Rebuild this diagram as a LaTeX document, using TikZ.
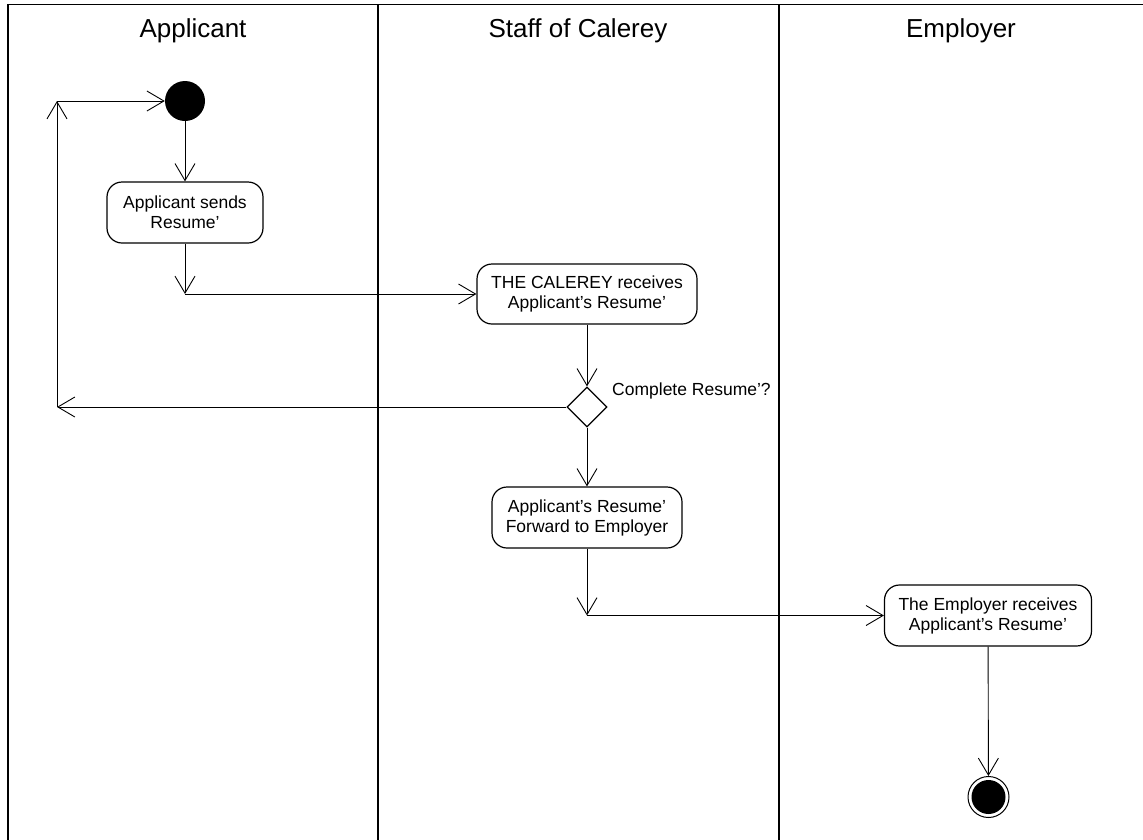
\documentclass[tikz,border=0pt]{standalone}
\usepackage{fontspec}
\setmainfont{Liberation Sans}
\usetikzlibrary{arrows.meta,shapes.geometric}

\tikzset{
  lane/.style={line width=1.6pt, line cap=rect},
  lanehead/.style={font=\fontsize{26}{30}\selectfont, anchor=center},
  activity/.style={draw, line width=1.2pt, rounded corners=15pt, align=center,
    inner sep=0pt, font=\fontsize{17.5}{20}\selectfont},
  startnode/.style={circle, fill=black, minimum size=40pt, inner sep=0pt},
  endnode/.style={circle, draw, line width=1pt, minimum size=41pt, inner sep=0pt},
  decision/.style={diamond, draw, line width=1.2pt, minimum width=40pt,
    minimum height=40pt, inner sep=0pt},
  flow/.style={line width=0.9pt, -{Straight Barb[length=17pt,width=20pt,line width=0.9pt]}},
  guard/.style={font=\fontsize{17.5}{20}\selectfont, anchor=west, inner sep=0pt}
}

\begin{document}
\begin{tikzpicture}[x=1pt, y=-1pt]
  \useasboundingbox (0,0) rectangle (1143,839);

  % swimlane frame
  \draw[lane] (1143,4.5) -- (8,4.5) -- (8,839);
  \draw[lane] (378,4.5) -- (378,839);
  \draw[lane] (779,4.5) -- (779,839);

  % lane titles
  \node[lanehead] (hApp) at (193,31) {Applicant};
  \node[lanehead] (hStaff) at (578,31) {Staff of Calerey};
  \node[lanehead] (hEmp) at (961,31) {Employer};

  % activities
  \node[startnode] (start) at (185,101) {};
  \node[activity, minimum width=156pt, minimum height=61pt] (send) at (185,212.5)
    {Applicant sends\\Resume’};
  \node[activity, minimum width=220pt, minimum height=60pt] (recv) at (587,294)
    {THE CALEREY receives\\Applicant’s Resume’};
  \node[decision] (dec) at (587,407) {};
  \node[guard] (guardlbl) at (612,391) {Complete Resume’?};
  \node[activity, minimum width=190pt, minimum height=61pt] (fwd) at (587,517.5)
    {Applicant’s Resume’\\Forward to Employer};
  \node[activity, minimum width=207pt, minimum height=61pt] (emp) at (988,615.5)
    {The Employer receives\\Applicant’s Resume’};
  \node[endnode] (end) at (988.5,797) {};
  \fill (end.center) circle (17pt);

  % bend points
  \coordinate (b1) at (185,294);
  \coordinate (b2) at (57,407);
  \coordinate (b3) at (57,101);
  \coordinate (b4) at (587,615.5);

  % control flow
  \draw[flow] (start) -- (send);
  \draw[flow] (send) -- (b1);
  \draw[flow] (b1) -- (recv);
  \draw[flow] (recv) -- (dec);
  \draw[flow] (dec) -- (b2);
  \draw[flow] (b2) -- (b3);
  \draw[flow] (b3) -- (start);
  \draw[flow] (dec) -- (fwd);
  \draw[flow] (fwd) -- (b4);
  \draw[flow] (b4) -- (emp);
  \draw[flow] (emp) -- (end);
\end{tikzpicture}
\end{document}
